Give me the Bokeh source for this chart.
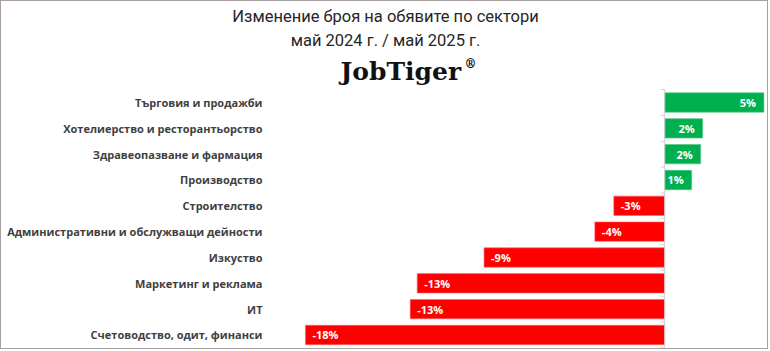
from bokeh.plotting import figure
from bokeh.models import Range1d, ColumnDataSource
from bokeh.core.properties import value
from bokeh.embed import file_html
from bokeh.resources import INLINE

# ---- data ----
categories = [
    "Търговия и продажби",
    "Хотелиерство и ресторантьорство",
    "Здравеопазване и фармация",
    "Производство",
    "Строителство",
    "Административни и обслужващи дейности",
    "Изкуство",
    "Маркетинг и реклама",
    "ИТ",
    "Счетоводство, одит, финанси",
]
values = [4.97, 1.9, 1.8, 1.35, -2.55, -3.5, -9.05, -12.4, -12.75, -18.0]
value_labels = ["5%", "2%", "2%", "1%", "-3%", "-4%", "-9%", "-13%", "-13%", "-18%"]
title_line1 = "Изменение броя на обявите по сектори"
title_line2 = "май 2024 г. / май 2025 г."
brand = "JobTiger"
brand_mark = "®"

GREEN = "#00B050"
RED = "#FF0000"

# ---- layout geometry (canvas pixels) ----
W, H = 768, 349
ZERO_PX = 663.2       # x of the zero line
PX_PER_PCT = 19.96    # horizontal scale
ROW0_PX = 101.0       # centre of first row
ROW_PX = 25.83        # row pitch
LABEL_RIGHT_PX = 261  # right edge of category labels

n = len(categories)
idx = list(range(n))
colors = [GREEN if v >= 0 else RED for v in values]
edges = ["#4cc47e" if v >= 0 else "#ff6666" for v in values]

x_range = Range1d(-ZERO_PX / PX_PER_PCT, (W - ZERO_PX) / PX_PER_PCT)
y_range = Range1d((H - ROW0_PX) / ROW_PX, -ROW0_PX / ROW_PX)

p = figure(
    width=W, height=H,
    x_range=x_range, y_range=y_range,
    x_axis_type=None, y_axis_type=None,
    output_backend="svg",
    toolbar_location=None,
    min_border=0,
    styles={"border": "1px solid #a8a0a0"},
)
p.extra_x_ranges = {"px": Range1d(0, W)}
p.extra_y_ranges = {"px": Range1d(H, 0)}
p.outline_line_color = None
p.grid.visible = False

src = ColumnDataSource(dict(y=idx, v=values, c=colors, line=edges))
p.hbar(y="y", left=0, right="v", height=0.75, fill_color="c", line_color="line",
       line_width=0.6, source=src)

# zero axis line with ticks at category boundaries
bounds = [i - 0.5 for i in range(n + 1)]
p.segment(x0=[0], x1=[0], y0=[bounds[0]], y1=[bounds[-1]], line_color="#d0d0d0", line_width=1)
p.segment(x0=[0] * len(bounds), x1=[-0.2] * len(bounds), y0=bounds, y1=bounds,
          line_color="#d0d0d0", line_width=1)

# value labels
pos = ColumnDataSource(dict(x=[v for v in values if v >= 0],
                            y=[i for i, v in zip(idx, values) if v >= 0],
                            t=[l for l, v in zip(value_labels, values) if v >= 0]))
neg = ColumnDataSource(dict(x=[v for v in values if v < 0],
                            y=[i for i, v in zip(idx, values) if v < 0],
                            t=[l for l, v in zip(value_labels, values) if v < 0]))
p.text(x="x", y="y", text="t", source=pos, text_align="right", text_baseline="middle",
       x_offset=-8, text_color="white", text_font_style="bold", text_font_size="11px",
       text_font=value("Open Sans"))
p.text(x="x", y="y", text="t", source=neg, text_align="left", text_baseline="middle",
       x_offset=7, text_color="white", text_font_style="bold", text_font_size="11px",
       text_font=value("Open Sans"))

# category labels (x in pixels, y on the category rows)
cat_src = ColumnDataSource(dict(x=[LABEL_RIGHT_PX] * n, y=idx, t=categories))
p.text(x="x", y="y", text="t", source=cat_src, x_range_name="px",
       text_align="right", text_baseline="middle", text_color="#404040",
       text_font=value("Open Sans"), text_font_style="bold", text_font_size="11px")

# header
p.text(x=[W / 2, W / 2], y=[15, 39], text=[title_line1, title_line2],
       x_range_name="px", y_range_name="px",
       text_align="center", text_baseline="middle", text_font=value("Roboto"),
       text_font_size="16.5px", text_color="#262626")
p.text(x=[339], y=[70], text=[brand], x_range_name="px", y_range_name="px",
       text_align="left", text_baseline="alphabetic",
       text_font=value("DejaVu Serif"), text_font_style="bold",
       text_font_size="25px", text_color="#111111")
p.text(x=[463], y=[62], text=[brand_mark], x_range_name="px", y_range_name="px",
       text_align="left", text_baseline="alphabetic",
       text_font=value("DejaVu Serif"), text_font_style="bold",
       text_font_size="12px", text_color="#111111")

open("out.html", "w").write(file_html(p, INLINE))
